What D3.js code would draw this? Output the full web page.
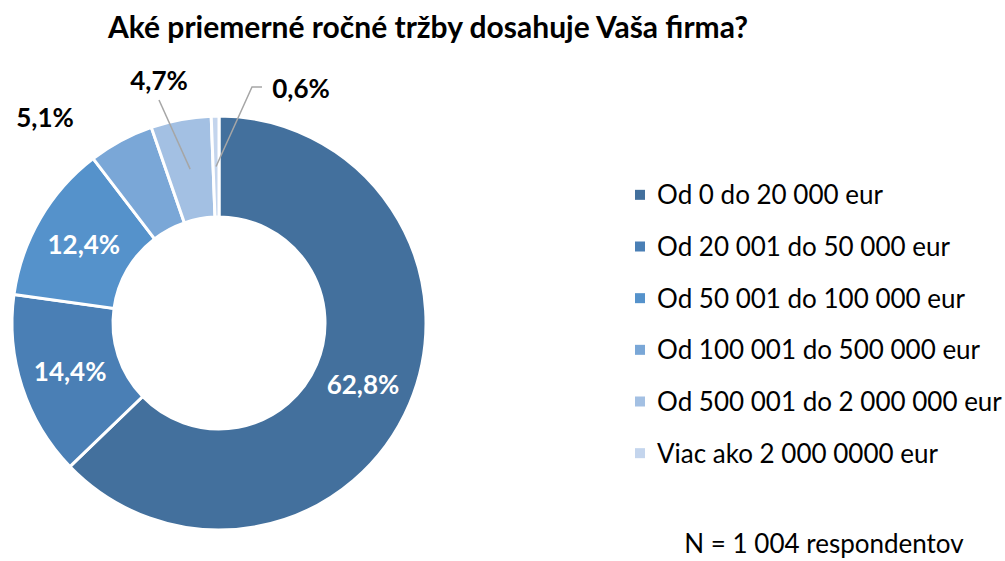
<!DOCTYPE html>
<html>
<head>
<meta charset="utf-8">
<script src="https://cdn.jsdelivr.net/npm/d3@7"></script>
<style>
body { margin: 0; background: #fff; }
text { font-family: Lato, "Open Sans", sans-serif; }
</style>
</head>
<body>
<svg class="chart" width="1005" height="561"></svg>
<script>
var title = "Aké priemerné ročné tržby dosahuje Vaša firma?";
var categories = ["Od 0 do 20 000 eur", "Od 20 001 do 50 000 eur", "Od 50 001 do 100 000 eur",
  "Od 100 001 do 500 000 eur", "Od 500 001 do 2 000 000 eur", "Viac ako 2 000 0000 eur"];
var values = [62.8, 14.4, 12.4, 5.1, 4.7, 0.6];
var colors = ["#43709d", "#4a7fb5", "#5592cb", "#7aa7d7", "#a3c0e3", "#c4d5ed"];
var note = "N = 1 004 respondentov";

var svg = d3.select(".chart");
var cx = 219, cy = 323, rOut = 207, rIn = 106;

svg.append("text")
  .attr("x", 428).attr("y", 38)
  .attr("text-anchor", "middle")
  .style("font-size", "30px").style("font-weight", "bold")
  .text(title);

var pie = d3.pie().sort(null).value(function(d) { return d; });
var arcs = pie(values);
var arc = d3.arc().innerRadius(rIn).outerRadius(rOut);

var g = svg.append("g").attr("transform", "translate(" + cx + "," + cy + ")");

g.selectAll("path").data(arcs).enter().append("path")
  .attr("d", arc)
  .style("fill", function(d, i) { return colors[i]; })
  .style("stroke", "#fff")
  .style("stroke-width", 3);

function fmt(v) { return v.toFixed(1).replace(".", ",") + "%"; }

// big slices: label at centroid, small ones: outside with leader line
var inside = arcs.filter(function(d) { return d.value > 10; });
g.selectAll("text.in").data(inside).enter().append("text")
  .attr("class", "in")
  .attr("x", function(d) { return arc.centroid(d)[0]; })
  .attr("y", function(d) { return arc.centroid(d)[1]; })
  .attr("dy", "0.36em")
  .attr("text-anchor", "middle")
  .style("fill", "#fff").style("font-size", "26px").style("font-weight", "bold")
  .text(function(d) { return fmt(d.value); });

// outside labels: offset of label from donut centre
var outPos = { 3: [-174, -205], 4: [-60, -242], 5: [82, -234] };
arcs.forEach(function(d, i) {
  if (!outPos[i]) return;
  var c = arc.centroid(d);
  var lx = outPos[i][0], ly = outPos[i][1];
  if (i == 4) {
    g.append("path").attr("d", "M" + c[0] + "," + c[1] + "L" + lx + "," + (ly + 19))
      .style("stroke", "#a6a6a6").style("stroke-width", 1.5).style("fill", "none");
  } else if (i == 5) {
    g.append("path").attr("d", "M" + c[0] + "," + c[1] + "L" + (lx - 49) + "," + (ly - 2) + "H" + (lx - 39))
      .style("stroke", "#a6a6a6").style("stroke-width", 1.5).style("fill", "none");
  }
  g.append("text").attr("x", lx).attr("y", ly).attr("dy", "0.36em")
    .attr("text-anchor", "middle")
    .style("font-size", "26px").style("font-weight", "bold").text(fmt(d.value));
});

// legend
var ly = d3.scaleBand().domain(categories).range([169, 479]);
var leg = svg.selectAll("g.leg").data(categories).enter().append("g")
  .attr("class", "leg")
  .attr("transform", function(d) { return "translate(635," + (ly(d) + ly.bandwidth() / 2) + ")"; });
leg.append("rect").attr("x", 0).attr("y", -5).attr("width", 10).attr("height", 10)
  .style("fill", function(d, i) { return colors[i]; });
leg.append("text").attr("x", 22).attr("dy", "0.36em")
  .style("font-size", "26px")
  .text(function(d) { return d; });

svg.append("text").attr("x", 824).attr("y", 553)
  .attr("text-anchor", "middle").style("font-size", "26px").text(note);
</script>
</body>
</html>
